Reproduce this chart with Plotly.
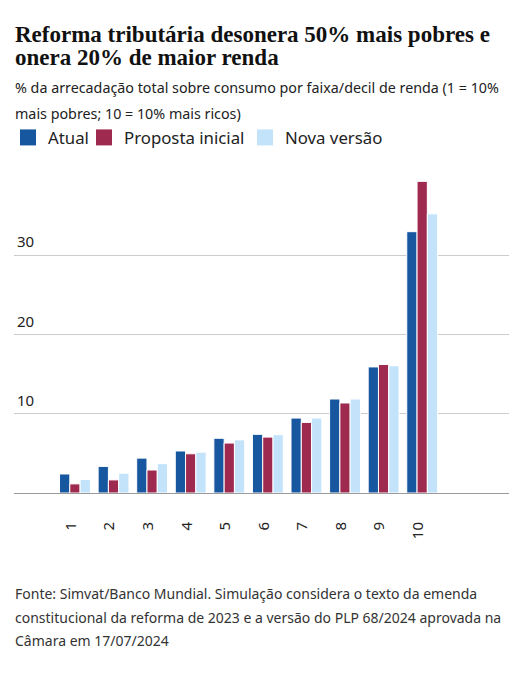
import plotly.graph_objects as go

# deciles de renda (1 = 10% mais pobres, 10 = 10% mais ricos)
deciles = [1, 2, 3, 4, 5, 6, 7, 8, 9, 10]
atual = [2.4, 3.35, 4.4, 5.3, 6.9, 7.4, 9.45, 11.85, 15.9, 32.95]
proposta_inicial = [1.15, 1.65, 2.9, 4.95, 6.3, 7.05, 8.9, 11.35, 16.2, 39.3]
nova_versao = [1.7, 2.5, 3.7, 5.15, 6.7, 7.35, 9.45, 11.85, 16.05, 35.2]

series_names = ["Atual", "Proposta inicial", "Nova versão"]
series_colors = ["#1657a0", "#9f2a4f", "#c3e3fa"]

# the page body adds an 8px margin, so the figure is drawn 8px smaller
OFF = 8
W, H = 526 - OFF, 680 - OFF
PLOT_TOP, PLOT_BOTTOM = 175 - OFF, 493 - OFF
PLOT_LEFT, PLOT_RIGHT = 14 - OFF, 509 - OFF


def py(pix):
    """reference pixel row -> paper y"""
    return (PLOT_BOTTOM - (pix - OFF)) / (PLOT_BOTTOM - PLOT_TOP)


def px(pix):
    return ((pix - OFF) - PLOT_LEFT) / (PLOT_RIGHT - PLOT_LEFT)


fig = go.Figure()

for name, vals, col in zip(series_names, [atual, proposta_inicial, nova_versao], series_colors):
    fig.add_trace(go.Bar(
        x=deciles, y=vals, name=name, showlegend=False,
        marker=dict(color=col, line=dict(color="white", width=1)),
    ))

# one small legend per series so each swatch can sit where the original has it
legend_x = [14, 95, 256]
legend_ids = ["legend", "legend2", "legend3"]
for name, col, lid in zip(series_names, series_colors, legend_ids):
    fig.add_trace(go.Scatter(
        x=[None], y=[None], mode="markers", name=name, legend=lid,
        marker=dict(symbol="square", size=16, color=col),
    ))

sans = "Noto Sans"
serif = "Liberation Serif"

lines = [
    ("<b>Reforma tributária desonera 50% mais pobres e</b>", 34, serif, 23, "#111"),
    ("<b>onera 20% de maior renda</b>", 57.5, serif, 23, "#111"),
    ("% da arrecadação total sobre consumo por faixa/decil de renda (1 = 10%", 88, sans, 14.3, "#222"),
    ("mais pobres; 10 = 10% mais ricos)", 113.5, sans, 14.3, "#222"),
    ("Fonte: Simvat/Banco Mundial. Simulação considera o texto da emenda", 593, sans, 14, "#333"),
    ("constitucional da reforma de 2023 e a versão do PLP 68/2024 aprovada na", 617, sans, 14, "#333"),
    ("Câmara em 17/07/2024", 640, sans, 14, "#333"),
]
annotations = []
for txt, yy, fam, size, col in lines:
    annotations.append(dict(
        text=txt, x=px(13), y=py(yy), xref="paper", yref="paper",
        xanchor="left", yanchor="middle", showarrow=False,
        font=dict(family=fam, size=size, color=col),
    ))

legends = {}
for lid, lx in zip(legend_ids, legend_x):
    legends[lid] = dict(
        xref="container", yref="container",
        x=(lx - OFF - 11) / W, y=1 - (137.5 - OFF) / H,
        xanchor="left", yanchor="middle", orientation="h",
        font=dict(family=sans, size=16.8, color="#222"),
        itemclick=False, bgcolor="rgba(0,0,0,0)",
    )

fig.update_layout(
    width=W, height=H,
    margin=dict(l=PLOT_LEFT, r=W - PLOT_RIGHT, t=PLOT_TOP, b=H - PLOT_BOTTOM,
                autoexpand=False),
    paper_bgcolor="white", plot_bgcolor="white",
    barmode="group", bargap=0.2, bargroupgap=0,
    font=dict(family=sans, color="#222"),
    annotations=annotations,
    xaxis=dict(
        range=[-0.58, 12.25], tickvals=deciles, ticktext=[str(d) for d in deciles],
        tickangle=-90, showgrid=False, zeroline=False, showline=False,
        ticks="", ticklabelstandoff=25, ticklabelshift=-4,
        tickfont=dict(family=sans, size=15, color="#222"),
        fixedrange=True,
    ),
    yaxis=dict(
        range=[0, 40.1], tickvals=[10, 20, 30],
        showgrid=True, gridcolor="#cccccc", gridwidth=1,
        zeroline=True, zerolinecolor="#9a9a9a", zerolinewidth=1,
        ticklabelposition="inside", ticklabelshift=-13,
        tickfont=dict(family=sans, size=15, color="#222"),
        fixedrange=True,
    ),
    **legends,
)

fig.write_html("out.html")
